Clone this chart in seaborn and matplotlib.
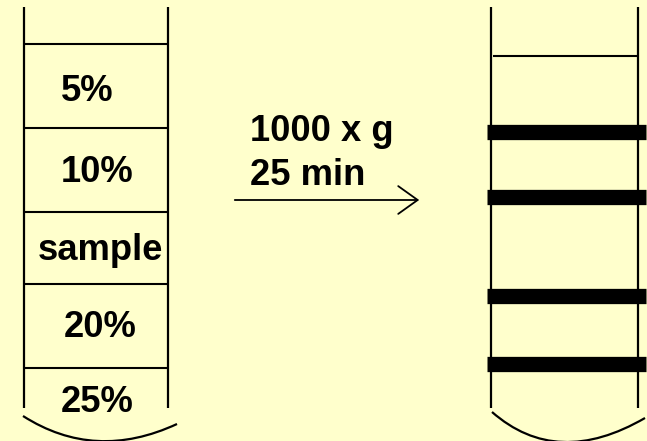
import numpy as np
import matplotlib
matplotlib.use("Agg")
import matplotlib.pyplot as plt
from matplotlib.path import Path
from matplotlib.patches import PathPatch, FancyArrowPatch
import seaborn as sns

# ---- data ----
layer_labels = ["5%", "10%", "sample", "20%", "25%"]
layer_label_x = [87, 97, 100, 100, 97]
layer_label_y = [101, 182, 260, 337, 412]
layer_bounds = [44, 128, 212, 284, 368]
band_positions = [132, 197, 296, 364]
top_line_right = 56
cond_lines = ["1000 x g", "25 min"]

BG = "#FFFFCC"
sns.set_theme(style="white", rc={"figure.facecolor": BG, "axes.facecolor": BG,
                                 "text.color": "black"})
plt.rcParams['font.family'] = ['Liberation Sans', 'DejaVu Sans']

fig = plt.figure(figsize=(6.47, 4.41), dpi=100)
ax = fig.add_axes([0, 0, 1, 1])
ax.set_xlim(0, 647)
ax.set_ylim(441, 0)
ax.axis("off")

lw = 1.6
# left tube
ax.vlines([24, 168], 7, 408, color="black", lw=lw)
ax.hlines(layer_bounds, 24, 168, color="black", lw=1.5)
for lab, x, y in zip(layer_labels, layer_label_x, layer_label_y):
    ax.text(x, y, lab, ha="center", va="baseline", fontsize=26.2,
            fontweight="bold", color="black")

def arc(p0, p1, p2):
    path = Path([p0, p1, p2], [Path.MOVETO, Path.CURVE3, Path.CURVE3])
    ax.add_patch(PathPatch(path, fill=False, color="black", lw=lw))

arc((23, 416), (95, 462), (177, 424))

# right tube
ax.vlines([491, 638], 7, 408, color="black", lw=lw)
ax.hlines([top_line_right], 493, 638, color="black", lw=1.5)
ax.hlines(band_positions, 487, 646, color="black", lw=11)
arc((492, 412), (557, 469), (645, 418))

# conditions + arrow
ax.text(250, 141, cond_lines[0], ha="left", va="baseline", fontsize=26.2,
        fontweight="bold", color="black")
ax.text(250, 185, cond_lines[1], ha="left", va="baseline", fontsize=26.2,
        fontweight="bold", color="black")
ax.add_patch(FancyArrowPatch((232, 200), (422, 200), arrowstyle="->,head_length=14,head_width=10",
                             color="black", lw=1.3, mutation_scale=1))

fig.savefig("out.png", dpi=100, facecolor=BG)
